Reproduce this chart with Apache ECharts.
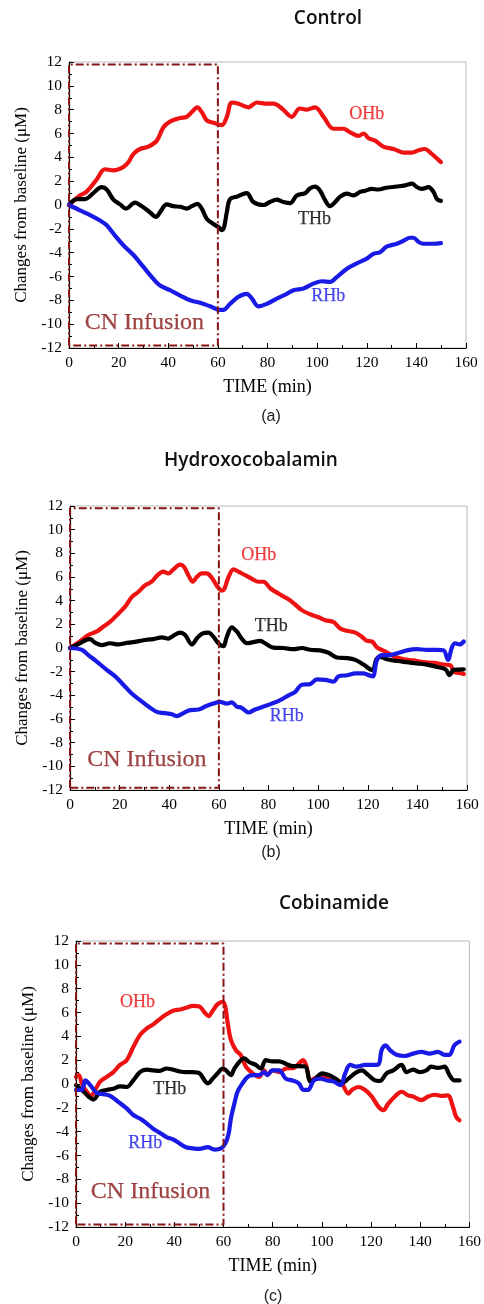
<!DOCTYPE html>
<html><head><meta charset="utf-8">
<script src="https://cdn.jsdelivr.net/npm/echarts@6/dist/echarts.min.js"></script>
<style>html,body{margin:0;padding:0;background:#fff}#c{width:484px;height:1304px}</style>
</head><body><div id="c"></div>
<script>
// ---------- data ----------
const panelTitles = ['Control', 'Hydroxocobalamin', 'Cobinamide'];
const panelCaptions = ['(a)', '(b)', '(c)'];
const xTicks = [0, 20, 40, 60, 80, 100, 120, 140, 160];
const yTicks = [-12, -10, -8, -6, -4, -2, 0, 2, 4, 6, 8, 10, 12];
const infusionBox = [[0, -11.8], [0, 11.8], [60, 11.8], [60, -11.8], [0, -11.8]];

// Panel (a) Control
const ctrlOHb = [[0,0],[4.4,0.8],[7,1.1],[11,2.1],[14.5,3.0],[18,2.9],[22,3.2],[24,3.6],[26,4.3],[28.6,4.7],[32,4.9],[35.4,5.4],[38,6.5],[40.7,7.0],[44.8,7.3],[47.4,7.4],[49.5,7.8],[51.7,8.2],[53.5,7.8],[55.5,7.1],[58.2,6.9],[61.6,6.7],[63.6,7.4],[65.6,8.6],[68.3,8.5],[72.3,8.2],[75.7,8.6],[79.7,8.5],[82.4,8.5],[85.8,8.1],[89.8,7.4],[93,8.1],[95.8,8.0],[99.2,8.2],[102.6,7.4],[106.6,6.4],[110.6,6.4],[113.3,6.1],[116.7,5.8],[118.7,6.0],[120.7,5.6],[123.4,5.4],[126.7,4.9],[130.8,4.7],[134.8,4.4],[138.2,4.4],[140.9,4.6],[143.5,4.7],[145.6,4.4],[148.3,3.9],[149.9,3.6]];
const ctrlTHb = [[0,0],[3.1,0.5],[6.5,0.5],[9.8,1.0],[13.2,1.5],[15.2,1.3],[17.9,0.45],[20.6,0.05],[23,-0.3],[26.6,0.2],[28.6,0],[32,-0.5],[35.1,-1.0],[36.7,-0.6],[39.4,0.05],[42,-0.1],[44.8,-0.15],[47.4,-0.3],[49.5,-0.1],[51.7,0.1],[53.5,-0.3],[55.5,-1.15],[58.2,-1.6],[60.2,-1.85],[61.6,-2.1],[62.5,-1.85],[63.6,-0.6],[64.9,0.5],[67.6,0.7],[71.6,1.0],[74.3,0.25],[78.4,0],[81,0.25],[83.7,0.45],[86.4,0.25],[89.1,0.15],[91.8,0.8],[95.2,1.0],[97.2,1.4],[99.2,1.55],[101.2,1.2],[103.2,0.4],[105.2,-0.1],[107.3,0.25],[109.3,0.7],[112,0.95],[114.7,0.8],[117.3,1.1],[119.4,1.2],[122,1.35],[124.7,1.3],[128,1.45],[132.1,1.55],[135.5,1.65],[138.2,1.8],[140.2,1.5],[142.2,1.35],[144.9,1.5],[146.9,1.1],[148.3,0.5],[149.9,0.35]];
const ctrlRHb = [[0,0],[4.4,-0.45],[8.5,-0.85],[12.5,-1.3],[15.2,-1.7],[18.5,-2.55],[22,-3.4],[26,-4.2],[30,-5.2],[34,-6.2],[36.7,-6.75],[40.7,-7.15],[44.8,-7.6],[48.8,-8.0],[52.8,-8.2],[56.9,-8.5],[60.9,-8.8],[62.2,-8.8],[64.9,-8.3],[68.3,-7.7],[71.6,-7.45],[73.7,-7.85],[76.3,-8.5],[79.7,-8.3],[83.7,-7.85],[87.8,-7.45],[90.5,-7.15],[94.5,-7.0],[98.5,-6.6],[101.9,-6.4],[105.2,-6.45],[107.9,-6.05],[112,-5.35],[116,-4.9],[120,-4.5],[122.7,-4.1],[125.4,-3.95],[128,-3.5],[132.1,-3.25],[134.8,-3.0],[137.5,-2.75],[138.8,-2.75],[140.9,-3.1],[142.9,-3.25],[146.9,-3.25],[149.9,-3.2]];

// Panel (b) Hydroxocobalamin
const hydroOHb = [[0,0],[4,0.55],[7.4,1.1],[10.8,1.4],[13.4,1.8],[16.1,2.2],[19.5,2.9],[22.2,3.5],[24.9,4.3],[27.6,4.75],[30.3,5.3],[32.9,5.6],[35,6.1],[37.6,6.45],[39.7,6.3],[41.7,6.65],[44.4,7.05],[46,6.85],[47.7,6.15],[49.5,5.6],[51.1,6.0],[53.1,6.3],[55.1,6.3],[57.1,5.95],[59.2,5.25],[61.2,4.85],[62.1,4.95],[63.9,6.0],[65.9,6.65],[67.9,6.45],[70.6,6.15],[73.3,5.85],[76,5.6],[78,5.6],[80.7,5.05],[84,4.6],[87.4,4.2],[90.1,3.8],[93.4,3.2],[96.8,2.85],[100.2,2.6],[102.9,2.35],[106.2,2.2],[108.9,1.65],[111.6,1.45],[115,1.3],[117.6,0.95],[119.7,0.6],[121.7,0.55],[123.7,0.05],[127.1,-0.3],[130.4,-0.7],[134.5,-0.95],[138.5,-1.05],[142.5,-1.2],[146.6,-1.25],[150.6,-1.4],[153.3,-1.45],[154.6,-2.0],[156.6,-2.1],[158.7,-2.2]];
const hydroTHb = [[0,0],[4,0.4],[6.7,0.7],[8.1,0.75],[10.1,0.45],[12.8,0.25],[16.1,0.4],[19.5,0.3],[22.2,0.4],[25.5,0.5],[28.2,0.6],[30.9,0.7],[33.6,0.75],[37,0.9],[39.7,0.8],[41.7,1.05],[44.4,1.3],[46.4,1.1],[49.1,0.3],[51.1,0.8],[53.1,1.2],[55.8,1.3],[57.8,0.95],[59.8,0.4],[61.8,0.15],[63.2,0.95],[65.2,1.75],[67.2,1.4],[69.2,0.8],[71.3,0.4],[73.9,0.5],[76.6,0.6],[79.3,0.3],[82,0.03],[86,0],[90.1,-0.1],[93.4,0],[96.8,-0.15],[100.8,-0.2],[104.2,-0.4],[107.6,-0.8],[111.6,-0.85],[115,-1.0],[118.3,-1.4],[121,-1.8],[122.1,-1.85],[123.4,-1.0],[125,-0.75],[127.7,-0.95],[131.8,-1.1],[135.8,-1.2],[139.8,-1.3],[143.9,-1.4],[147.9,-1.6],[151.3,-1.8],[153,-2.3],[154.6,-1.85],[158.7,-1.8]];
const hydroRHb = [[0,0],[4.7,-0.15],[7.4,-0.6],[10.8,-1.15],[14.8,-1.85],[18.2,-2.4],[21.5,-3.1],[24.9,-3.85],[28.2,-4.4],[31.6,-4.95],[35,-5.4],[38.3,-5.5],[41,-5.6],[43,-5.75],[45.7,-5.5],[48.4,-5.25],[51.8,-5.2],[54.5,-4.95],[57.8,-4.7],[60.5,-4.55],[63.2,-4.7],[65.2,-4.6],[67.2,-4.95],[69.2,-5.05],[71.9,-5.45],[74.6,-5.2],[78,-4.95],[81.3,-4.7],[84.7,-4.4],[88.1,-4.0],[90.8,-3.7],[93.4,-3.1],[96.8,-3.05],[99.5,-2.65],[102.9,-2.7],[106.2,-2.85],[108.2,-2.4],[111.6,-2.3],[115,-2.15],[118.3,-2.15],[121,-2.35],[122.1,-2.4],[123.7,-1.0],[125.7,-0.6],[128.4,-0.6],[131.8,-0.45],[135.8,-0.2],[139.8,-0.1],[143.9,-0.15],[147.9,-0.15],[150.6,-0.2],[152.3,-1.0],[154,0.1],[155.3,0.4],[157,0.3],[158.7,0.55]];

// Panel (c) Cobinamide
const cobiOHb = [[0,0.6],[1.1,0.75],[2.4,0.05],[4.4,-0.65],[6.1,-1.0],[7.8,-0.5],[9.8,0.2],[12.5,0.6],[15.2,1.0],[17.9,1.6],[20.6,2.0],[23.3,3.1],[26,4.1],[28.7,4.65],[31.4,5.0],[34.1,5.45],[36.8,5.85],[39.5,6.15],[42.2,6.25],[44.8,6.4],[47.5,6.55],[50.2,6.5],[52.3,6.0],[53.9,5.7],[55.6,6.15],[57.6,6.7],[59.7,6.9],[60.7,6.5],[61.7,5.1],[63,3.7],[65,2.85],[67.1,2.4],[69.1,1.45],[71.8,0.9],[74.5,0.6],[76.5,1.15],[77.8,0.75],[79.9,1.15],[82.6,1.0],[85.3,1.3],[88.6,1.35],[90.6,1.7],[92.3,2.0],[93.6,1.6],[95.4,0.3],[98.7,0.6],[102.8,0.45],[105.5,0.4],[108.1,0.05],[110.8,-0.8],[112.2,-0.5],[114.9,-0.25],[117.6,-0.5],[120.3,-1.05],[123,-1.9],[125,-2.2],[127,-1.65],[129.7,-1.05],[132.4,-0.65],[135.1,-0.95],[137.1,-1.05],[140.5,-1.35],[143.2,-1.05],[145.9,-0.9],[148.6,-1.0],[151.2,-0.95],[153.3,-1.9],[154.6,-2.75],[156,-3.05]];
const cobiTHb = [[0,-0.1],[2.4,-0.5],[5.1,-1.05],[7.1,-1.3],[9.8,-0.65],[12.5,-0.5],[15.2,-0.4],[17.9,-0.2],[20.6,-0.25],[23.3,0.3],[26,1.0],[28.7,1.2],[31.4,1.15],[34.1,1.1],[36.8,1.3],[39.5,1.2],[42.2,1.05],[44.8,1.0],[47.5,1.0],[50.2,0.9],[52.3,0.3],[53.6,0.05],[55.6,0.45],[57.6,0.9],[59.7,1.3],[61,1.15],[63,0.75],[64.4,1.3],[66.4,1.85],[68.4,2.15],[70.4,1.85],[73.1,1.6],[75.2,1.3],[77.2,2.0],[79.9,1.9],[82.6,1.9],[85.3,1.7],[88,1.5],[90.6,1.5],[93.3,1.45],[95.4,0.2],[97.4,0.45],[100.1,0.9],[102.8,0.75],[105.5,0.45],[108.1,0.1],[110.8,0.45],[113.5,0.9],[116.2,1.15],[118.9,0.75],[121.6,0.3],[123.6,0.25],[126.3,0.9],[129,1.15],[132.4,1.6],[134.4,1.0],[137.1,1.2],[139.8,1.0],[142.5,1.15],[144.5,1.45],[147.2,1.35],[149.9,1.45],[151.9,0.75],[153.9,0.3],[156,0.3]];
const cobiRHb = [[0,-0.5],[2.4,-0.5],[3.8,0.3],[5.8,-0.1],[8.5,-0.75],[11.2,-0.85],[13.9,-1.0],[17.2,-1.5],[20.6,-2.05],[23.3,-2.6],[26,-2.9],[28.7,-3.3],[31.4,-3.75],[34.1,-4.1],[36.8,-4.45],[39.5,-4.65],[42.2,-5.0],[44.8,-5.3],[47.5,-5.4],[50.2,-5.45],[53.6,-5.3],[56.3,-5.5],[59,-5.4],[60.7,-5.0],[62.1,-4.15],[63,-2.9],[64.4,-1.65],[65.7,-0.65],[67.7,0.05],[69.8,0.6],[71.8,0.75],[74.5,0.75],[76.5,1.0],[77.8,0.75],[79.9,1.15],[82.6,1.15],[85.3,0.45],[88,0.3],[90.6,0.05],[92.6,-0.5],[94.4,-0.5],[96.7,0.3],[99.4,0.45],[102.1,0.3],[104.8,0.2],[107.5,-0.1],[109.5,0.9],[111.5,1.6],[114.2,1.45],[117.6,1.6],[120.3,1.6],[123,1.65],[124.3,2.85],[125.9,3.25],[127.7,2.85],[130.4,2.45],[133.7,2.35],[137.1,2.55],[140.5,2.7],[143.8,2.55],[147.2,2.7],[149.9,2.45],[151.9,2.45],[153.9,3.25],[156,3.55]];

const panelSeries = [
  [ctrlOHb, ctrlTHb, ctrlRHb],
  [hydroOHb, hydroTHb, hydroRHb],
  [cobiOHb, cobiTHb, cobiRHb]
];
const seriesNames = ['OHb', 'THb', 'RHb'];

// ---------- layout / style ----------
const grids = [
  {left: 69, top: 62, width: 397, height: 286},
  {left: 70, top: 506, width: 397, height: 284},
  {left: 76, top: 941, width: 396, height: 286}
];
const titlePos = [[323, 4], [246, 446], [329, 889]];
const captionPos = [[266, 404], [266, 840], [268, 1284]];
const labelPos = [
  {OHb: [120, 7.6], THb: [98.9, -1.2], RHb: [104.5, -7.7], CN: [30.4, -9.9]},
  {OHb: [76.1, 7.85], THb: [81.1, 1.85], RHb: [87.4, -5.8], CN: [31, -9.4]},
  {OHb: [25, 6.85], THb: [38.1, -0.4], RHb: [28.2, -5.0], CN: [30.3, -9.0]}
];
const colors = {OHb: '#ee1212', THb: '#000000', RHb: '#1a1ae6'};
const boxColor = '#861515';
const serif = '"Liberation Serif", "DejaVu Serif", serif';

const option = {
  animation: false,
  backgroundColor: '#fff',
  title: [],
  grid: [],
  xAxis: [],
  yAxis: [],
  series: []
};

for (let p = 0; p < 3; p++) {
  option.title.push({
    text: panelTitles[p], left: titlePos[p][0], top: titlePos[p][1], textAlign: 'center',
    textStyle: {fontFamily: '"Open Sans", sans-serif', fontWeight: 600, fontSize: 19, color: '#111'}
  });
  option.title.push({
    text: panelCaptions[p], left: captionPos[p][0], top: captionPos[p][1], textAlign: 'center',
    textStyle: {fontFamily: '"Liberation Sans", sans-serif', fontWeight: 'normal', fontSize: 16, color: '#222'}
  });
  option.grid.push(Object.assign({show: true, borderColor: '#b8b8b8', borderWidth: 1, backgroundColor: '#fff'}, grids[p]));
  option.xAxis.push({
    type: 'value', gridIndex: p, min: xTicks[0], max: xTicks[xTicks.length - 1], interval: 20,
    name: 'TIME (min)', nameLocation: 'middle', nameGap: 30,
    nameTextStyle: {fontFamily: serif, fontSize: 18, color: '#000'},
    axisLine: {show: true, onZero: false, lineStyle: {color: '#000', width: 1.2}},
    axisTick: {show: true, inside: true, length: 5, lineStyle: {color: '#000'}},
    minorTick: {show: true, splitNumber: 2, length: 3, lineStyle: {color: '#000'}},
    splitLine: {show: false},
    axisLabel: {fontFamily: serif, fontSize: 15.5, color: '#000', margin: 7}
  });
  option.yAxis.push({
    type: 'value', gridIndex: p, min: yTicks[0], max: yTicks[yTicks.length - 1], interval: 2,
    name: 'Changes from baseline (\u03bcM)', nameLocation: 'middle', nameGap: 35, nameRotate: 90,
    nameTextStyle: {fontFamily: serif, fontSize: 17, color: '#000'},
    axisLine: {show: true, onZero: false, lineStyle: {color: '#000', width: 1.2}},
    axisTick: {show: true, inside: true, length: 5, lineStyle: {color: '#000'}},
    minorTick: {show: true, splitNumber: 2, length: 3, lineStyle: {color: '#000'}},
    splitLine: {show: false},
    axisLabel: {fontFamily: serif, fontSize: 15.5, color: '#000', margin: 7}
  });
  // data lines
  panelSeries[p].forEach((d, i) => {
    const nm = seriesNames[i];
    option.series.push({
      type: 'line', name: nm, xAxisIndex: p, yAxisIndex: p, data: d,
      showSymbol: false, smooth: 0.35, z: 3,
      lineStyle: {color: colors[nm], width: 4.2, cap: 'round', join: 'round'}
    });
  });
  // infusion box
  option.series.push({
    type: 'line', name: 'box', xAxisIndex: p, yAxisIndex: p, data: infusionBox,
    showSymbol: false, z: 4,
    lineStyle: {color: boxColor, width: 2, type: [8, 3, 2, 3]}
  });
  // text labels
  const lp = labelPos[p];
  const lab = (c, s) => ({color: c, fontSize: s, textBorderWidth: 0.25, textBorderColor: c, textShadowBlur: 0});
  option.series.push({
    type: 'scatter', xAxisIndex: p, yAxisIndex: p, symbolSize: 1, z: 5,
    itemStyle: {color: 'rgba(0,0,0,0)'},
    label: {show: true, position: 'inside', formatter: '{b}', fontFamily: serif},
    data: [
      {name: 'OHb', value: lp.OHb, label: lab(colors.OHb, 18)},
      {name: 'THb', value: lp.THb, label: lab('#000', 18)},
      {name: 'RHb', value: lp.RHb, label: lab(colors.RHb, 18)},
      {name: 'CN Infusion', value: lp.CN, label: lab(boxColor, 24)}
    ]
  });
}

const chart = echarts.init(document.getElementById('c'), null, {renderer: 'canvas'});
chart.setOption(option);
</script>
</body></html>
